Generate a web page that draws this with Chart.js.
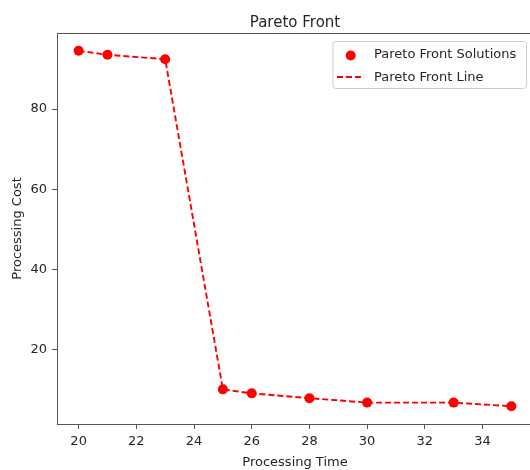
<!DOCTYPE html>
<html>
<head>
<meta charset="utf-8">
<script src="https://cdn.jsdelivr.net/npm/chart.js@4"></script>
<style>
  html, body { margin: 0; padding: 0; background: #fff; overflow: hidden; width: 530px; height: 470px; }
  #wrap { width: 540px; height: 470px; }
</style>
</head>
<body>
<div id="wrap"><canvas id="c" width="540" height="470"></canvas></div>
<script>
// ---- data ----
const chartTitle = "Pareto Front";
const xLabel = "Processing Time";
const yLabel = "Processing Cost";
const seriesPointsLabel = "Pareto Front Solutions";
const seriesLineLabel = "Pareto Front Line";
const processingTime = [20, 21, 23, 25, 26, 28, 30, 33, 35];
const processingCost = [94.5, 93.5, 92.4, 10.2, 9.2, 8.0, 6.9, 6.9, 6.0];
const xTicks = [20, 22, 24, 26, 28, 30, 32, 34];
const yTicks = [20, 40, 60, 80];

const pts = processingTime.map((x, i) => ({ x: x, y: processingCost[i] }));

// matplotlib-style 5% margins
function padRange(arr) {
  const mn = Math.min(...arr), mx = Math.max(...arr), m = (mx - mn) * 0.05;
  return [mn - m, mx + m];
}
const [xMin, xMax] = padRange(processingTime);
const [yMin, yMax] = padRange(processingCost);

const FONT = "'DejaVu Sans', sans-serif";
const TXT = '#262626';
const AX = '#555555';
const RED = '#ff0000';
const DASH = [6, 3];
const LW = 1.9;

const framePlugin = {
  id: 'frame',
  afterDraw(chart) {
    const { ctx, chartArea: a } = chart;
    ctx.save();
    ctx.strokeStyle = AX;
    ctx.lineWidth = 1;
    ctx.beginPath();
    ctx.moveTo(a.left, a.top + 0.5);
    ctx.lineTo(a.right, a.top + 0.5);
    ctx.moveTo(a.right - 0.5, a.top);
    ctx.lineTo(a.right - 0.5, a.bottom);
    ctx.stroke();
    // title
    ctx.fillStyle = TXT;
    ctx.font = "15px " + FONT;
    ctx.textAlign = 'center';
    ctx.textBaseline = 'alphabetic';
    ctx.fillText(chartTitle, (a.left + a.right) / 2, 26.5);
    // legend
    const right = 526, top = 41, w = 193.5, h = 47;
    const left = right - w;
    ctx.beginPath();
    if (ctx.roundRect) ctx.roundRect(left + 0.5, top + 0.5, w, h, 3); else ctx.rect(left + 0.5, top + 0.5, w, h);
    ctx.fillStyle = 'rgba(255,255,255,0.8)';
    ctx.fill();
    ctx.strokeStyle = '#cccccc';
    ctx.lineWidth = 1;
    ctx.stroke();
    const ds = chart.data.datasets;
    // row 1: marker
    ctx.fillStyle = RED;
    ctx.beginPath();
    ctx.arc(left + 18.2, top + 14.5, 5, 0, Math.PI * 2);
    ctx.fill();
    // row 2: dashed line
    ctx.strokeStyle = RED;
    ctx.lineWidth = LW;
    ctx.setLineDash(DASH);
    ctx.beginPath();
    ctx.moveTo(left + 4.5, top + 36);
    ctx.lineTo(left + 31, top + 36);
    ctx.stroke();
    ctx.setLineDash([]);
    ctx.fillStyle = TXT;
    ctx.font = "13px " + FONT;
    ctx.textAlign = 'left';
    ctx.textBaseline = 'middle';
    ctx.fillText(ds[0].label, left + 41.5, top + 14);
    ctx.fillText(ds[1].label, left + 41.5, top + 36.5);
    ctx.restore();
  }
};

new Chart(document.getElementById('c'), {
  type: 'scatter',
  data: {
    datasets: [
      {
        label: seriesPointsLabel,
        data: pts,
        showLine: false,
        pointRadius: 5,
        pointHoverRadius: 5,
        backgroundColor: RED,
        borderColor: RED,
        borderWidth: 0,
        order: 2
      },
      {
        label: seriesLineLabel,
        data: pts,
        showLine: true,
        borderColor: RED,
        borderWidth: LW,
        borderDash: DASH,
        pointRadius: 0,
        fill: false,
        tension: 0,
        order: 1
      }
    ]
  },
  options: {
    responsive: false,
    animation: false,
    events: [],
    layout: { padding: { top: 33, right: 7, left: 0, bottom: 0 } },
    plugins: {
      legend: { display: false },
      title: { display: false },
      tooltip: { enabled: false }
    },
    scales: {
      x: {
        type: 'linear',
        min: xMin,
        max: xMax,
        afterBuildTicks(s) { s.ticks = xTicks.map(v => ({ value: v })); },
        afterFit(s) { s.height = 46; },
        grid: { display: true, drawOnChartArea: false, drawTicks: true, tickLength: 5, color: AX, lineWidth: 1 },
        border: { display: true, color: AX, width: 1 },
        ticks: { color: TXT, font: { family: FONT, size: 13 }, padding: 5, maxRotation: 0, autoSkip: false },
        title: { display: true, text: xLabel, color: TXT, font: { family: FONT, size: 13 }, padding: { top: 0, bottom: 0 } }
      },
      y: {
        type: 'linear',
        min: yMin,
        max: yMax,
        afterBuildTicks(s) { s.ticks = yTicks.map(v => ({ value: v })); },
        afterFit(s) { s.width = 57; },
        grid: { display: true, drawOnChartArea: false, drawTicks: true, tickLength: 5, color: AX, lineWidth: 1 },
        border: { display: true, color: AX, width: 1 },
        ticks: { color: TXT, font: { family: FONT, size: 13 }, padding: 5, autoSkip: false },
        title: { display: true, text: yLabel, color: TXT, font: { family: FONT, size: 13 }, padding: { top: 10, bottom: 0 } }
      }
    }
  },
  plugins: [framePlugin]
});
</script>
</body>
</html>
